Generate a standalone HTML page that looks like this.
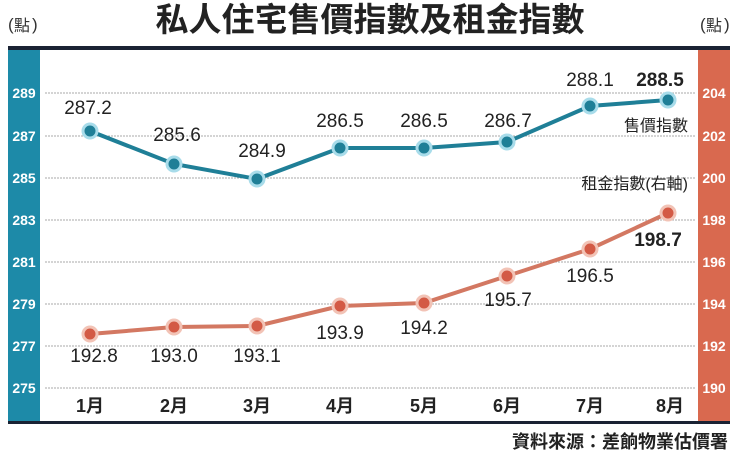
<!DOCTYPE html>
<html><head><meta charset="utf-8"><style>
body{margin:0;background:#fff;}
svg text{font-family:"Liberation Sans","Noto Sans CJK TC",sans-serif;}
</style></head><body>
<svg width="740" height="455" viewBox="0 0 740 455" xmlns="http://www.w3.org/2000/svg">
<rect width="740" height="455" fill="#fff"/>
<text x="8" y="30" font-size="17" fill="#333">(</text><text x="14" y="31" font-size="16" fill="#333">點</text><text x="32" y="30" font-size="17" fill="#333">)</text>
<text x="700" y="30" font-size="17" fill="#333">(</text><text x="706" y="31" font-size="16" fill="#333">點</text><text x="724" y="30" font-size="17" fill="#333">)</text>
<text x="370" y="31" font-size="33" font-weight="bold" fill="#222" text-anchor="middle">私人住宅售價指數及租金指數</text>
<rect x="8" y="47" width="32" height="376" fill="#1d8aa8"/>
<rect x="698" y="47" width="32" height="376" fill="#d9694f"/>
<rect x="8" y="46" width="722" height="4" fill="#1a2233"/>
<rect x="8" y="421" width="722" height="3" fill="#1a2233"/>
<g stroke="#aaa" stroke-width="1" stroke-dasharray="2,1">
<line x1="45" x2="695" y1="93" y2="93"/><line x1="45" x2="695" y1="136" y2="136"/><line x1="45" x2="695" y1="178" y2="178"/><line x1="45" x2="695" y1="220" y2="220"/><line x1="45" x2="695" y1="262" y2="262"/><line x1="45" x2="695" y1="304" y2="304"/><line x1="45" x2="695" y1="346" y2="346"/><line x1="45" x2="695" y1="388" y2="388"/>
</g>
<g font-size="14" font-weight="bold" fill="#fff" text-anchor="middle">
<text x="24" y="98">289</text><text x="24" y="141">287</text><text x="24" y="183">285</text><text x="24" y="225">283</text><text x="24" y="267">281</text><text x="24" y="309">279</text><text x="24" y="351">277</text><text x="24" y="393">275</text>
<text x="714" y="98">204</text><text x="714" y="141">202</text><text x="714" y="183">200</text><text x="714" y="225">198</text><text x="714" y="267">196</text><text x="714" y="309">194</text><text x="714" y="351">192</text><text x="714" y="393">190</text>
</g>
<polyline fill="none" stroke="#1f7f97" stroke-width="4" points="90,131 174,164 257,179 340,148 424,148 507,142 590,106 668,100"/>
<g fill="#1f7f97" stroke="#a8dcea" stroke-width="3">
<circle cx="90" cy="131" r="7"/><circle cx="174" cy="164" r="7"/><circle cx="257" cy="179" r="7"/><circle cx="340" cy="148" r="7"/><circle cx="424" cy="148" r="7"/><circle cx="507" cy="142" r="7"/><circle cx="590" cy="106" r="7"/><circle cx="668" cy="100" r="7"/>
</g>
<polyline fill="none" stroke="#d37862" stroke-width="4" points="90,334 174,327 257,326 340,306 424,303 507,276 590,249 668,213"/>
<g fill="#d35a45" stroke="#f2c3b6" stroke-width="3">
<circle cx="90" cy="334" r="7"/><circle cx="174" cy="327" r="7"/><circle cx="257" cy="326" r="7"/><circle cx="340" cy="306" r="7"/><circle cx="424" cy="303" r="7"/><circle cx="507" cy="276" r="7"/><circle cx="590" cy="249" r="7"/><circle cx="668" cy="213" r="7"/>
</g>
<g font-size="19" fill="#222" text-anchor="middle">
<text x="88" y="114">287.2</text><text x="177" y="141">285.6</text><text x="262" y="157">284.9</text><text x="340" y="127">286.5</text><text x="424" y="127">286.5</text><text x="508" y="127">286.7</text><text x="590" y="86">288.1</text><text x="660" y="86" font-weight="bold">288.5</text>
<text x="94" y="362">192.8</text><text x="174" y="362">193.0</text><text x="257" y="362">193.1</text><text x="340" y="339">193.9</text><text x="424" y="334">194.2</text><text x="508" y="306">195.7</text><text x="590" y="282">196.5</text><text x="658" y="246" font-weight="bold">198.7</text>
</g>
<text x="688" y="131" font-size="16" fill="#222" text-anchor="end">售價指數</text>
<text x="688" y="189" font-size="16" fill="#222" text-anchor="end">租金指數(右軸)</text>
<g font-size="18" font-weight="bold" fill="#222" text-anchor="middle">
<text x="90" y="412">1月</text><text x="174" y="412">2月</text><text x="257" y="412">3月</text><text x="340" y="412">4月</text><text x="424" y="412">5月</text><text x="507" y="412">6月</text><text x="590" y="412">7月</text><text x="670" y="412">8月</text>
</g>
<text x="728" y="448" font-size="18" font-weight="bold" fill="#222" text-anchor="end">資料來源：差餉物業估價署</text>
</svg>
</body></html>
